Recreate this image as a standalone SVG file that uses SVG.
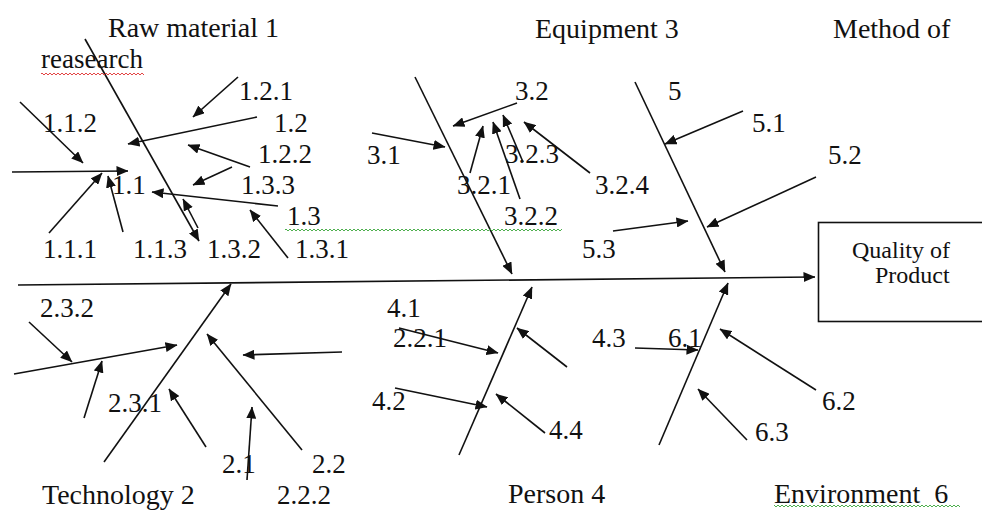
<svg xmlns="http://www.w3.org/2000/svg" width="982" height="510" viewBox="0 0 982 510">
<style>
.t{font-family:"Liberation Serif","Times New Roman",serif;font-size:27px;fill:#111}
.h{font-size:28px}
.q{font-size:24px}
.c line{stroke:#111;stroke-width:1.6;fill:none}
.a{marker-end:url(#ah)}
</style>
<defs>
<marker id="ah" viewBox="0 0 12 10" refX="11.5" refY="5" markerWidth="12" markerHeight="10" markerUnits="userSpaceOnUse" orient="auto">
<path d="M0,0 L12,5 L0,10 z" fill="#111"/>
</marker>
<pattern id="wg" x="0" y="0" width="4" height="4" patternUnits="userSpaceOnUse">
<polyline points="0,3 2,1 4,3" fill="none" stroke="#3aa63a" stroke-width="0.9"/>
</pattern>
<pattern id="wr" x="0" y="0" width="4" height="4" patternUnits="userSpaceOnUse">
<polyline points="0,3 2,1 4,3" fill="none" stroke="#e03030" stroke-width="0.9"/>
</pattern>
</defs>
<rect width="982" height="510" fill="#fff"/>

<g id="connectors" class="c">
<line class="a" x1="18" y1="285" x2="815" y2="277"/>
<line class="a" x1="85" y1="39" x2="199" y2="241"/>
<line class="a" x1="415" y1="77" x2="512" y2="274"/>
<line class="a" x1="635" y1="82" x2="725" y2="272"/>
<line class="a" x1="104" y1="462" x2="231" y2="284"/>
<line class="a" x1="459" y1="455" x2="532" y2="287"/>
<line class="a" x1="659" y1="445" x2="728" y2="283"/>

<line class="a" x1="238" y1="77" x2="193" y2="117"/>
<line class="a" x1="257" y1="117" x2="128" y2="144"/>
<line class="a" x1="250" y1="167" x2="188" y2="145"/>
<line class="a" x1="232" y1="167" x2="193" y2="185"/>
<line class="a" x1="278" y1="206" x2="152" y2="192"/>
<line class="a" x1="288" y1="258" x2="250" y2="210"/>
<line class="a" x1="20" y1="102" x2="83" y2="163"/>
<line class="a" x1="12" y1="172" x2="128" y2="171"/>
<line class="a" x1="49" y1="233" x2="102" y2="173"/>
<line class="a" x1="123" y1="232" x2="108" y2="176"/>
<line class="a" x1="198" y1="228" x2="183" y2="199"/>

<line class="a" x1="517" y1="103" x2="453" y2="126"/>
<line class="a" x1="372" y1="133" x2="445" y2="147"/>
<line class="a" x1="470" y1="173" x2="483" y2="126"/>
<line class="a" x1="520" y1="199" x2="493" y2="122"/>
<line class="a" x1="523" y1="162" x2="503" y2="115"/>
<line class="a" x1="590" y1="173" x2="524" y2="122"/>

<line class="a" x1="743" y1="111" x2="665" y2="144"/>
<line class="a" x1="816" y1="177" x2="707" y2="227"/>
<line class="a" x1="613" y1="231" x2="688" y2="221"/>

<line class="a" x1="29" y1="322" x2="72" y2="362"/>
<line class="a" x1="14" y1="374" x2="177" y2="345"/>
<line class="a" x1="84" y1="418" x2="102" y2="361"/>
<line class="a" x1="206" y1="447" x2="169" y2="389"/>
<line class="a" x1="302" y1="450" x2="207" y2="334"/>
<line class="a" x1="342" y1="352" x2="243" y2="355"/>
<line class="a" x1="247" y1="480" x2="252" y2="407"/>

<line class="a" x1="399" y1="328" x2="498" y2="353"/>
<line class="a" x1="395" y1="388" x2="487" y2="407"/>
<line class="a" x1="567" y1="367" x2="517" y2="328"/>
<line class="a" x1="545" y1="433" x2="496" y2="394"/>

<line class="a" x1="635" y1="348" x2="698" y2="350"/>
<line class="a" x1="816" y1="390" x2="720" y2="329"/>
<line class="a" x1="747" y1="440" x2="698" y2="389"/>
</g>

<g id="effect">
<rect x="818.5" y="222.5" width="180" height="99" fill="none" stroke="#111" stroke-width="1.6"/>
<text class="t q" x="852" y="258">Quality of</text>
<text class="t q" x="875" y="283">Product</text>
</g>

<g id="cat-raw-material">
<text class="t h" x="108" y="37">Raw material 1</text>
<text class="t" x="41" y="68">reasearch</text>
<rect x="41" y="71" width="103" height="4" fill="url(#wr)"/>
</g>
<g id="cat-equipment"><text class="t h" x="535" y="38">Equipment 3</text></g>
<g id="cat-method"><text class="t h" x="833" y="38">Method of</text></g>
<g id="cat-technology"><text class="t h" x="42" y="504">Technology 2</text></g>
<g id="cat-person"><text class="t h" x="508" y="503">Person 4</text></g>
<g id="cat-environment">
<text class="t h" x="774" y="503">Environment&#160; 6</text>
<rect x="774" y="505" width="186" height="4" fill="url(#wg)"/>
</g>

<g id="causes-1">
<text class="t" x="239" y="100">1.2.1</text>
<text class="t" x="43" y="132">1.1.2</text>
<text class="t" x="274" y="132">1.2</text>
<text class="t" x="258" y="163">1.2.2</text>
<text class="t" x="241" y="194">1.3.3</text>
<text class="t" x="112" y="194">1.1</text>
<text class="t" x="287" y="225">1.3</text>
<rect x="285" y="227" width="277" height="4" fill="url(#wg)"/>
<text class="t" x="43" y="258">1.1.1</text>
<text class="t" x="133" y="258">1.1.3</text>
<text class="t" x="207" y="258">1.3.2</text>
<text class="t" x="295" y="258">1.3.1</text>
</g>
<g id="causes-3">
<text class="t" x="515" y="100">3.2</text>
<text class="t" x="367" y="164">3.1</text>
<text class="t" x="505" y="163">3.2.3</text>
<text class="t" x="457" y="194">3.2.1</text>
<text class="t" x="595" y="194">3.2.4</text>
<text class="t" x="504" y="225">3.2.2</text>
</g>
<g id="causes-5">
<text class="t" x="668" y="100">5</text>
<text class="t" x="752" y="132">5.1</text>
<text class="t" x="828" y="164">5.2</text>
<text class="t" x="582" y="258">5.3</text>
</g>
<g id="causes-2">
<text class="t" x="40" y="317">2.3.2</text>
<text class="t" x="108" y="412">2.3.1</text>
<text class="t" x="222" y="473">2.1</text>
<text class="t" x="312" y="473">2.2</text>
<text class="t" x="277" y="504">2.2.2</text>
<text class="t" x="393" y="347">2.2.1</text>
</g>
<g id="causes-4">
<text class="t" x="387" y="317">4.1</text>
<text class="t" x="372" y="410">4.2</text>
<text class="t" x="592" y="347">4.3</text>
<text class="t" x="549" y="439">4.4</text>
</g>
<g id="causes-6">
<text class="t" x="668" y="347">6.1</text>
<text class="t" x="822" y="410">6.2</text>
<text class="t" x="755" y="441">6.3</text>
</g>
</svg>
